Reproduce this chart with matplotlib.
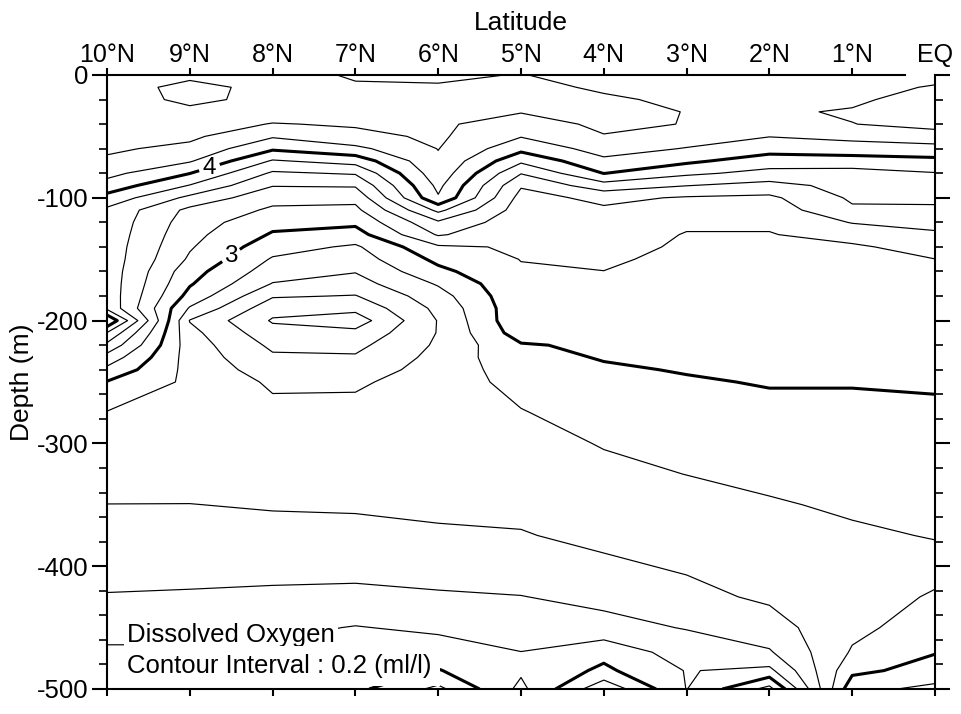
import numpy as np
import matplotlib
matplotlib.use('Agg')
import matplotlib.pyplot as plt
from matplotlib.ticker import MultipleLocator

plt.rcParams['font.family'] = ['Liberation Sans', 'DejaVu Sans']
plt.rcParams['axes.unicode_minus'] = False

# 测站纬度 (°N) 与采样深度 (m, 向下为负)
lats = [10, 9, 8, 7, 6, 5, 4, 3, 2, 1, 0]
lat_labels = ['10°N', '9°N', '8°N', '7°N', '6°N', '5°N', '4°N', '3°N', '2°N', '1°N', 'EQ']
depths = [0, -10, -20, -30, -40, -50, -60, -70, -80, -90,
          -100, -110, -120, -130, -140, -150, -160, -170, -180, -190,
          -200, -210, -220, -230, -240, -250,
          -275, -300, -325, -350, -375, -400, -425, -450,
          -470, -485, -500]

# 各站溶解氧剖面 (ml/l)，与 depths 一一对应
o2_10n = [4.52, 4.52, 4.51, 4.50, 4.48, 4.46, 4.43, 4.37, 4.26, 4.12,
          3.93, 3.76, 3.74, 3.73, 3.72, 3.72, 3.72, 3.72, 3.73, 3.76,
          4.20, 3.79, 3.55, 3.32, 3.15, 2.99,
          2.79, 2.74, 2.67, 2.598, 2.53, 2.46, 2.39, 2.27,
          2.17, 2.08, 2.02]
o2_9n = [4.56, 4.65, 4.64, 4.56, 4.50, 4.44, 4.35, 4.22, 4.005, 3.79,
         3.55, 3.35, 3.30, 3.26, 3.22, 3.17, 3.08, 3.02, 2.93, 2.78,
         2.59, 2.66, 2.70, 2.72, 2.74, 2.76,
         2.74, 2.70, 2.65, 2.598, 2.53, 2.46, 2.38, 2.27,
         2.17, 2.10, 2.06]
o2_8n = [4.54, 4.55, 4.55, 4.50, 4.39, 4.22, 4.03, 3.78, 3.57, 3.41,
         3.26, 3.17, 3.06, 2.98, 2.88, 2.78, 2.70, 2.59, 2.42, 2.27,
         2.18, 2.27, 2.36, 2.43, 2.50, 2.57,
         2.65, 2.70, 2.67, 2.61, 2.56, 2.45, 2.37, 2.25,
         2.16, 2.10, 2.05]
o2_7n = [4.36, 4.44, 4.46, 4.45, 4.42, 4.35, 4.15, 3.88, 3.62, 3.42,
         3.26, 3.15, 3.04, 2.92, 2.77, 2.70, 2.61, 2.52, 2.39, 2.25,
         2.10, 2.25, 2.35, 2.42, 2.50, 2.57,
         2.66, 2.70, 2.67, 2.62, 2.55, 2.45, 2.36, 2.19,
         2.11, 2.07, 2.05]
o2_6n = [4.36, 4.42, 4.43, 4.43, 4.43, 4.43, 4.405, 4.37, 4.33, 4.25,
         4.18, 3.85, 3.57, 3.42, 3.17, 3.05, 2.95, 2.82, 2.72, 2.65,
         2.61, 2.61, 2.63, 2.66, 2.68, 2.70,
         2.72, 2.70, 2.67, 2.63, 2.58, 2.47, 2.38, 2.24,
         2.10, 1.99, 1.75]
o2_5n = [4.41, 4.46, 4.46, 4.41, 4.31, 4.21, 4.06, 3.84, 3.61, 3.42,
         3.33, 3.30, 3.27, 3.25, 3.22, 3.205, 3.18, 3.17, 3.16, 3.15,
         3.16, 3.10, 2.98, 2.95, 2.90, 2.86,
         2.79, 2.74, 2.69, 2.64, 2.59, 2.50, 2.395, 2.28,
         2.198, 2.17, 2.25]
o2_4n = [4.30, 4.37, 4.43, 4.46, 4.44, 4.39, 4.28, 4.16, 4.005, 3.72,
         3.45, 3.37, 3.33, 3.30, 3.27, 3.23, 3.198, 3.17, 3.14, 3.11,
         3.09, 3.06, 3.04, 3.01, 2.98, 2.95,
         2.88, 2.81, 2.76, 2.70, 2.64, 2.57, 2.45, 2.34,
         2.06, 1.96, 1.65]
o2_3n = [4.30, 4.33, 4.36, 4.395, 4.394, 4.29, 4.19, 4.04, 3.84, 3.605,
         3.38, 3.30, 3.23, 3.19, 3.17, 3.15, 3.13, 3.11, 3.10, 3.08,
         3.07, 3.06, 3.05, 3.03, 3.01, 2.985,
         2.93, 2.86, 2.802, 2.74, 2.68, 2.62, 2.55, 2.41,
         2.30, 2.21, 2.205]
o2_2n = [4.32, 4.34, 4.35, 4.385, 4.31, 4.205, 4.08, 3.90, 3.74, 3.53,
         3.36, 3.29, 3.23, 3.19, 3.17, 3.15, 3.13, 3.12, 3.10, 3.09,
         3.08, 3.07, 3.06, 3.04, 3.03, 3.01,
         2.96, 2.92, 2.85, 2.78, 2.73, 2.68, 2.63, 2.52,
         2.38, 2.15, 1.73]
o2_1n = [4.33, 4.36, 4.38, 4.41, 4.398, 4.26, 4.10, 3.92, 3.72, 3.67,
         3.63, 3.57, 3.41, 3.28, 3.17, 3.13, 3.11, 3.10, 3.09, 3.08,
         3.07, 3.06, 3.05, 3.04, 3.03, 3.01,
         2.96, 2.92, 2.88, 2.83, 2.77, 2.72, 2.71, 2.75,
         2.82, 2.95, 3.14]
o2_eq = [4.36, 4.41, 4.45, 4.46, 4.43, 4.36, 4.10, 3.96, 3.79, 3.72,
         3.65, 3.56, 3.46, 3.37, 3.28, 3.198, 3.16, 3.14, 3.12, 3.11,
         3.10, 3.09, 3.08, 3.06, 3.04, 3.02,
         2.97, 2.93, 2.89, 2.85, 2.81, 2.74, 2.82, 2.90,
         2.99, 3.08, 3.25]

# 等值线间隔 0.2 ml/l，整数值加粗，3 和 4 标注数值
levels = np.round(np.arange(1.8, 4.7, 0.2), 1)
thick_levels = [lv for lv in levels if abs(lv - round(lv)) < 1e-6]
thin_levels = [lv for lv in levels if lv not in thick_levels]
labeled_levels = [3.0, 4.0]
plain_thick = [lv for lv in thick_levels if lv not in labeled_levels]

z = np.column_stack([o2_10n, o2_9n, o2_8n, o2_7n, o2_6n, o2_5n,
                     o2_4n, o2_3n, o2_2n, o2_1n, o2_eq])

fig = plt.figure(figsize=(9.62, 7.14), dpi=100)
ax = fig.add_axes([107 / 962, 1 - 689 / 714, (935 - 107) / 962, (689 - 75) / 714])

ax.contour(lats, depths, z, levels=thin_levels, colors='black', linewidths=0.85)
ax.contour(lats, depths, z, levels=plain_thick, colors='black', linewidths=2.2)
cs = ax.contour(lats, depths, z, levels=labeled_levels, colors='black', linewidths=2.2)
clabels = ax.clabel(cs, fmt={3.0: '3', 4.0: '4'}, fontsize=17.5,
                    inline=True, inline_spacing=4,
                    manual=[(8.76, -76), (8.45, -152)])
for t in clabels:
    t.set_rotation(0)

ax.set_xlim(10, 0)
ax.set_ylim(-500, 0)

# 纬度刻度放在上方
ax.set_xticks(lats)
ax.set_xticklabels(lat_labels)
ax.tick_params(axis='x', which='major', direction='out', length=5, width=1.5,
               top=True, bottom=True, labeltop=True, labelbottom=False,
               labelsize=18, pad=0.5)

ax.yaxis.set_major_locator(MultipleLocator(100))
ax.yaxis.set_minor_locator(MultipleLocator(20))
ax.tick_params(axis='y', which='major', direction='out', length=10.5, width=1.5,
               left=True, right=True, labelleft=True, labelright=False,
               labelsize=18.5, pad=3)
ax.tick_params(axis='y', which='minor', direction='out', length=6, width=1.2,
               left=True, right=True)

for s in ax.spines.values():
    s.set_linewidth(1.5)
ax.spines['top'].set_bounds(10, 0.36)

# EQ 处上方不画刻度
for tick in ax.xaxis.get_major_ticks():
    if tick.get_loc() == 0:
        tick.tick2line.set_visible(False)

fig.text(521 / 962, 1 - 30 / 714, 'Latitude', ha='center', va='baseline', fontsize=19)
fig.text(22 / 962, 1 - 382 / 714, 'Depth (m)', rotation=90, ha='center', va='center',
         fontsize=19)

# 说明文字带白底，第二行底色压住第一行的下伸部分
ax.text(9.758, -461.7, 'Dissolved Oxygen', fontsize=18.5, ha='left', va='baseline',
        bbox=dict(facecolor='white', edgecolor='none', pad=2), zorder=5)
ax.text(9.758, -487, 'Contour Interval : 0.2 (ml/l)', fontsize=18.5, ha='left',
        va='baseline', bbox=dict(facecolor='white', edgecolor='none', pad=6), zorder=6)

fig.savefig('out.png', dpi=100)
plt.close(fig)
